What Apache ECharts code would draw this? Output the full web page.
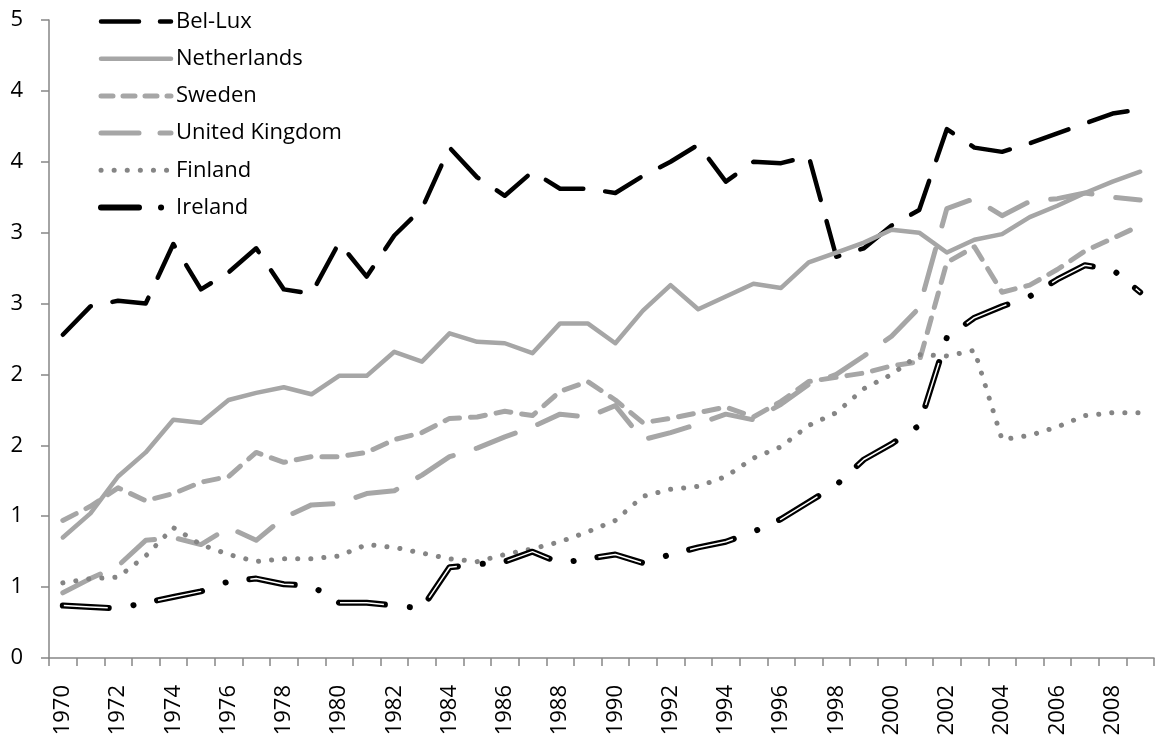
<!DOCTYPE html>
<html>
<head>
<meta charset="utf-8">
<title>Bel-Lux, Netherlands, Sweden, UK, Finland, Ireland</title>
<script src="https://cdn.jsdelivr.net/npm/echarts@6.0.0/dist/echarts.min.js"></script>
<style>
    html, body { margin: 0; padding: 0; background: #fff; }
    #chart { width: 1155px; height: 740px; }
</style>
</head>
<body>
<div id="chart"></div>
<script>
var years = [];
for (var y = 1970; y <= 2009; y++) {
    years.push(String(y));
}

// values, 1970..2009
var belLux = [2.28, 2.48, 2.52, 2.50, 2.92, 2.60, 2.72, 2.89, 2.60, 2.57,
    2.93, 2.69, 2.98, 3.17, 3.60, 3.39, 3.26, 3.43, 3.31, 3.31,
    3.28, 3.40, 3.50, 3.62, 3.36, 3.50, 3.49, 3.54, 2.83, 2.89,
    3.05, 3.16, 3.73, 3.60, 3.57, 3.63, 3.70, 3.77, 3.84, 3.87];
var netherlands = [0.85, 1.02, 1.28, 1.45, 1.68, 1.66, 1.82, 1.87, 1.91, 1.86,
    1.99, 1.99, 2.16, 2.09, 2.29, 2.23, 2.22, 2.15, 2.36, 2.36,
    2.22, 2.45, 2.63, 2.46, 2.55, 2.64, 2.61, 2.79, 2.86, 2.93,
    3.02, 3.00, 2.86, 2.95, 2.99, 3.11, 3.19, 3.28, 3.36, 3.43];
var sweden = [0.97, 1.07, 1.20, 1.11, 1.16, 1.24, 1.28, 1.45, 1.38, 1.42,
    1.42, 1.45, 1.54, 1.59, 1.69, 1.70, 1.74, 1.71, 1.88, 1.95,
    1.82, 1.66, 1.69, 1.73, 1.77, 1.70, 1.81, 1.95, 1.98, 2.01,
    2.06, 2.09, 2.79, 2.90, 2.58, 2.63, 2.74, 2.87, 2.96, 3.05];
var unitedKingdom = [0.46, 0.56, 0.65, 0.83, 0.85, 0.80, 0.92, 0.83, 0.99, 1.08,
    1.09, 1.16, 1.18, 1.29, 1.42, 1.48, 1.56, 1.63, 1.72, 1.70,
    1.78, 1.54, 1.59, 1.65, 1.72, 1.68, 1.79, 1.93, 2.00, 2.13,
    2.27, 2.47, 3.17, 3.24, 3.12, 3.22, 3.24, 3.28, 3.25, 3.23];
var finland = [0.53, 0.56, 0.57, 0.72, 0.92, 0.80, 0.73, 0.68, 0.70, 0.70,
    0.72, 0.80, 0.78, 0.74, 0.70, 0.68, 0.73, 0.77, 0.82, 0.89,
    0.97, 1.14, 1.19, 1.21, 1.28, 1.41, 1.49, 1.64, 1.73, 1.90,
    2.00, 2.14, 2.13, 2.17, 1.54, 1.57, 1.63, 1.71, 1.73, 1.73];
var ireland = [0.37, 0.36, 0.35, 0.39, 0.43, 0.47, 0.54, 0.56, 0.52, 0.51,
    0.39, 0.39, 0.37, 0.35, 0.64, 0.66, 0.68, 0.75, 0.67, 0.70,
    0.73, 0.67, 0.73, 0.78, 0.82, 0.89, 0.98, 1.10, 1.22, 1.40,
    1.51, 1.64, 2.26, 2.40, 2.48, 2.55, 2.67, 2.77, 2.74, 2.58];

var seriesNames = ['Bel-Lux', 'Netherlands', 'Sweden', 'United Kingdom', 'Finland', 'Ireland'];
var yTicks = [0, 0.5, 1, 1.5, 2, 2.5, 3, 3.5, 4, 4.5];

var FONT = '"Open Sans", "Noto Sans", sans-serif';
var GRAY = '#a6a6a6';
var AXIS = '#868686';

function lineSeries(name, data, color, width, dash, extra) {
    var s = {
        name: name,
        type: 'line',
        data: data,
        symbol: 'none',
        showSymbol: false,
        smooth: false,
        silent: true,
        lineStyle: {
            color: color,
            width: width,
            type: dash,
            cap: 'round',
            join: 'round'
        },
        // no markers: keeps the legend icon a bare line
        itemStyle: { color: color, opacity: 0 }
    };
    if (extra) {
        for (var k in extra) s.lineStyle[k] = extra[k];
    }
    return s;
}

// legend samples are shorter than the chart dashes in the original
var legendDash = {
    'Bel-Lux': [38, 21],
    'Sweden': [12, 10],
    'United Kingdom': [38, 21],
    'Ireland': [38, 22, 0.1, 22]
};
var legendData = seriesNames.map(function(n) {
    var item = { name: n };
    if (legendDash[n]) item.lineStyle = { type: legendDash[n] };
    return item;
});

var myChart = echarts.init(document.getElementById('chart'), null, { renderer: 'canvas' });

var option = {
    backgroundColor: '#fff',
    animation: false,
    textStyle: { fontFamily: FONT },
    grid: {
        left: 49,
        right: 1,
        top: 20,
        bottom: 82,
        containLabel: false
    },
    legend: {
        data: legendData,
        orient: 'vertical',
        left: 98,
        top: 10.5,
        padding: 0,
        itemWidth: 70,
        itemHeight: 14,
        itemGap: 15.2,
        selectedMode: false,
        itemStyle: { opacity: 0 },
        lineStyle: { width: 'inherit', cap: 'round' },
        textStyle: {
            fontFamily: FONT,
            fontSize: 22,
            lineHeight: 22,
            color: '#000'
        }
    },
    xAxis: {
        type: 'category',
        data: years,
        boundaryGap: true,
        axisLine: { lineStyle: { color: AXIS, width: 1.5 } },
        axisTick: {
            show: true,
            interval: 0,
            length: 8,
            lineStyle: { color: AXIS, width: 1.5 }
        },
        axisLabel: {
            interval: 1,
            rotate: 90,
            margin: 27,
            fontFamily: FONT,
            fontSize: 22,
            color: '#000'
        },
        splitLine: { show: false }
    },
    yAxis: {
        type: 'value',
        min: yTicks[0],
        max: yTicks[yTicks.length - 1],
        interval: 0.5,
        axisLine: { show: true, lineStyle: { color: AXIS, width: 1.5 } },
        axisTick: { show: true, length: 8, lineStyle: { color: AXIS, width: 1.5 } },
        axisLabel: {
            margin: 26,
            fontFamily: FONT,
            fontSize: 22,
            color: '#000',
            // the original shows the half steps rounded to whole numbers
            formatter: function(v) { return String(Math.round(v)); }
        },
        splitLine: { show: false }
    },
    series: [
        lineSeries('Bel-Lux', belLux, '#000', 4.5, [40, 22]),
        lineSeries('Netherlands', netherlands, GRAY, 4.5, 'solid'),
        lineSeries('Sweden', sweden, GRAY, 5, [15, 11]),
        lineSeries('United Kingdom', unitedKingdom, GRAY, 5, [42, 24]),
        lineSeries('Finland', finland, '#858585', 5, [0.1, 13]),
        lineSeries('Ireland', ireland, '#000', 6, [46, 25, 0.1, 24]),
        // white core of Ireland's double line, same dash period
        lineSeries('Ireland core', ireland, '#fff', 1.5, [44, 51.1], { dashOffset: -1, cap: 'butt' })
    ]
};

myChart.setOption(option);
</script>
</body>
</html>
